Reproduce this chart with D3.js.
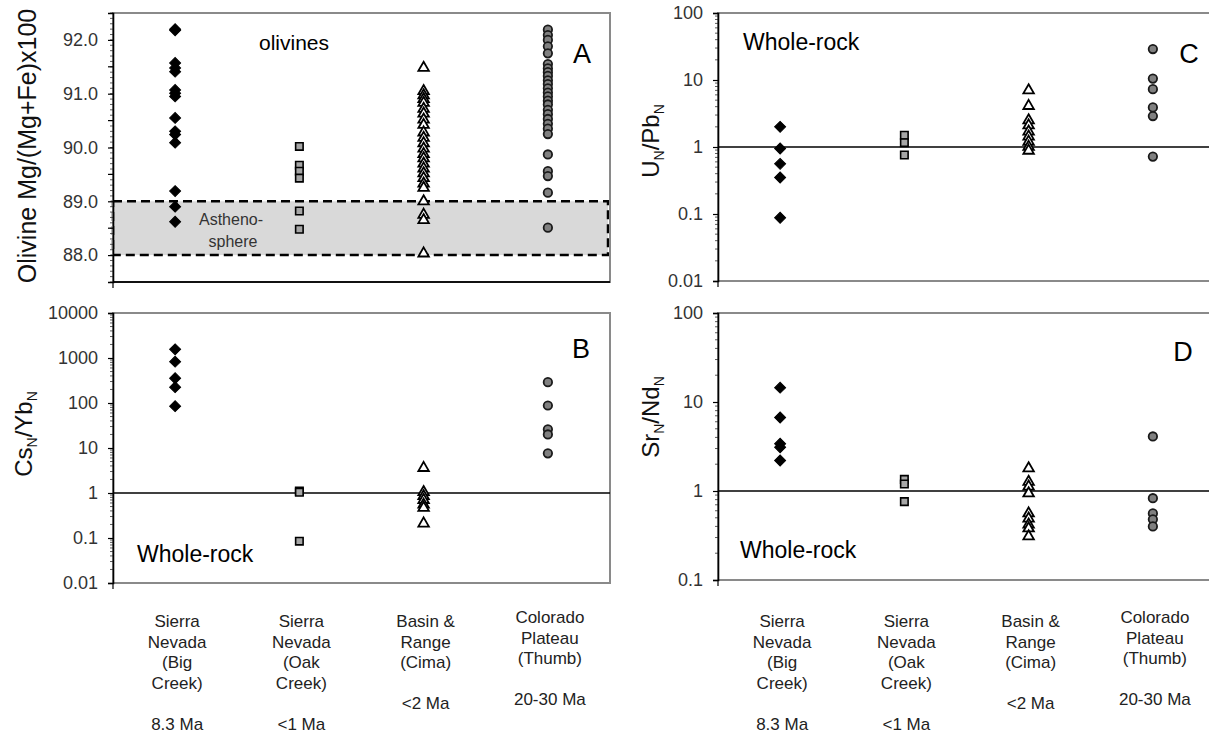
<!DOCTYPE html>
<html><head><meta charset="utf-8">
<script src="https://cdn.jsdelivr.net/npm/d3@7"></script>
<style>
body{margin:0;background:#fff;}
text{font-family:"Liberation Sans",Arial,sans-serif;}
</style></head>
<body><svg id="c" width="1209" height="736"></svg>
<script>
// ---------- data ----------
const categories = ["Big Creek","Oak Creek","Cima","Thumb"];
const categoryLabels = [
  ["Sierra","Nevada","(Big","Creek)","","8.3 Ma"],
  ["Sierra","Nevada","(Oak","Creek)","","<1 Ma"],
  ["Basin &","Range","(Cima)","","<2 Ma"],
  ["Colorado","Plateau","(Thumb)","","20-30 Ma"]
];
const olivineTicks = ["88.0","89.0","90.0","91.0","92.0"];
const csYbTicks = ["0.01","0.1","1","10","100","1000","10000"];
const uPbTicks = ["0.01","0.1","1","10","100"];
const srNdTicks = ["0.1","1","10","100"];

// Panel A: olivine Mg#
const olivineBigCreek = [92.2,92.18,91.57,91.48,91.41,91.07,91.01,90.95,90.55,90.3,90.24,90.09,89.19,88.9,88.62];
const olivineOakCreek = [90.02,89.67,89.56,89.43,88.82,88.48];
const olivineCima = [91.48,91.05,90.97,90.9,90.83,90.72,90.63,90.52,90.42,90.28,90.18,90.08,89.98,89.88,89.8,89.7,89.61,89.52,89.43,89.33,89.25,89.0,88.75,88.65,88.03];
const olivineThumb = [92.19,92.09,92.0,91.88,91.75,91.55,91.47,91.4,91.33,91.25,91.18,91.1,91.02,90.95,90.87,90.8,90.7,90.62,90.53,90.44,90.35,90.25,89.87,89.56,89.47,89.16,88.51];
// Panel B: CsN/YbN
const csYbBigCreek = [1560,830,355,225,85];
const csYbOakCreek = [1.1,1.04,0.085];
const csYbCima = [3.6,1.05,0.85,0.7,0.55,0.47,0.21];
const csYbThumb = [290,88,26,20,7.6];
// Panel C: UN/PbN
const uPbBigCreek = [2.0,0.95,0.56,0.35,0.088];
const uPbOakCreek = [1.5,1.16,0.76];
const uPbCima = [7.0,4.1,2.5,2.1,1.7,1.43,1.2,1.01,0.88];
const uPbThumb = [29,10.5,7.3,3.9,2.9,0.72];
// Panel D: SrN/NdN
const srNdBigCreek = [14.5,6.7,3.4,3.1,2.2];
const srNdOakCreek = [1.35,1.2,0.76];
const srNdCima = [1.8,1.27,1.12,0.94,0.56,0.49,0.42,0.38,0.31];
const srNdThumb = [4.1,0.83,0.56,0.48,0.4];

// ---------- drawing ----------
const svg = d3.select("#c");
const groupStyles = [
  {type:"diamond", fill:"#000", stroke:"#000", sw:1},
  {type:"square", fill:"#a6a6a6", stroke:"#000", sw:1.6},
  {type:"triangle", fill:"#fff", stroke:"#000", sw:1.8},
  {type:"circle", fill:"#808080", stroke:"#1a1a1a", sw:1.8}
];
function symbolPath(t){
  if(t==="diamond") return d3.symbol(d3.symbolSquare, 60)();
  if(t==="square") return d3.symbol(d3.symbolSquare, 56)();
  if(t==="triangle") return d3.symbol(d3.symbolTriangle, 48)();
  return d3.symbol(d3.symbolCircle, 56)();
}

function panel(cfg){
  const {x0,x1,y0,y1,y,series} = cfg;
  const x = d3.scaleBand().domain(categories).range([x0,x1]);
  const g = svg.append("g");
  if(cfg.band){
    const bt = y(cfg.band[1]), bb = y(cfg.band[0]);
    g.append("rect").attr("x",x0).attr("y",bt).attr("width",x1-x0-2).attr("height",bb-bt)
      .attr("fill","#d9d9d9").attr("stroke","#000").attr("stroke-width",2.5).attr("stroke-dasharray","9,5");
    g.append("text").attr("x",x0+118).attr("y",bt+24).attr("text-anchor","middle")
      .attr("font-size",16).attr("fill","#333").text("Astheno-");
    g.append("text").attr("x",x0+120).attr("y",bt+46).attr("text-anchor","middle")
      .attr("font-size",16).attr("fill","#333").text("sphere");
  }
  // frame
  g.append("rect").attr("x",x0).attr("y",y0).attr("width",x1-x0).attr("height",y1-y0)
    .attr("fill","none").attr("stroke","#8a8a8a").attr("stroke-width",2);
  if(cfg.blackBottom) g.append("line").attr("x1",x0).attr("x2",x1).attr("y1",y1).attr("y2",y1).attr("stroke","#111").attr("stroke-width",2);
  if(cfg.refLine!==undefined) g.append("line").attr("x1",x0).attr("x2",x1).attr("y1",y(cfg.refLine)).attr("y2",y(cfg.refLine)).attr("stroke","#000").attr("stroke-width",1.3);
  // axis
  const ax = g.append("g").attr("transform",`translate(${x0},0)`);
  const minor = cfg.minor;
  ax.selectAll("line.mn").data(minor).join("line").attr("x1",-3).attr("x2",0)
    .attr("y1",d=>y(d)).attr("y2",d=>y(d)).attr("stroke","#333").attr("stroke-width",0.8);
  const axis = d3.axisLeft(y).tickValues(cfg.ticks.map(Number)).tickFormat((d,i)=>cfg.ticks[i]).tickSizeOuter(0).tickSize(5).tickPadding(10);
  ax.call(axis);
  ax.select(".domain").attr("stroke","#000").attr("stroke-width",1.6);
  ax.selectAll(".tick line").attr("stroke","#000").attr("stroke-width",1.2);
  ax.selectAll(".tick text").attr("font-size",18).attr("fill","#333").attr("font-family","Liberation Sans, Arial, sans-serif");
  g.append("line").attr("x1",x0).attr("x2",x0).attr("y1",y1).attr("y2",y1+6).attr("stroke","#000").attr("stroke-width",1.2);
  // points
  series.forEach((vals,i)=>{
    const st = groupStyles[i];
    const p = symbolPath(st.type);
    g.selectAll(null).data(vals).join("path").attr("d",p)
      .attr("transform",d=>`translate(${x(categories[i])+x.bandwidth()/2},${y(d)})${st.type==="diamond"?" rotate(45)":""}`)
      .attr("fill",st.fill).attr("stroke",st.stroke).attr("stroke-width",st.sw);
  });
  // panel letter
  g.append("text").attr("x",cfg.letterPos[0]).attr("y",cfg.letterPos[1]).attr("text-anchor","middle")
    .attr("font-size",27).attr("fill","#000").text(cfg.letter);
  // y label
  const yl = g.append("text").attr("transform",`translate(${cfg.ylabPos[0]},${cfg.ylabPos[1]}) rotate(-90)`)
    .attr("text-anchor","middle").attr("font-size",cfg.ylabSize||24).attr("fill","#111");
  cfg.ylab.forEach(part=>{
    if(part.sub) yl.append("tspan").attr("font-size",14).attr("dy",5).text(part.t);
    else yl.append("tspan").attr("dy",part.after?-5:0).text(part.t);
  });
  if(cfg.note) g.append("text").attr("x",cfg.note.x).attr("y",cfg.note.y).attr("font-size",cfg.note.size)
    .attr("text-anchor",cfg.note.anchor||"start").attr("fill","#000").text(cfg.note.t);
  return x;
}

function logMinor(lo,hi){
  const out=[];
  for(let e=Math.log10(lo); e<Math.log10(hi); e++) for(let k=2;k<10;k++) out.push(k*Math.pow(10,e));
  return out;
}

const yA = d3.scaleLinear().domain([87.5,92.5]).range([282,13]);
const xA = panel({x0:113,x1:610,y0:13,y1:282,y:yA,series:[olivineBigCreek,olivineOakCreek,olivineCima,olivineThumb],
  ticks:olivineTicks, minor:d3.range(875,926,1).map(v=>v/10), band:[88,89], blackBottom:true,
  letter:"A", letterPos:[582,63],
  ylab:[{t:"Olivine Mg/(Mg+Fe)x100"}], ylabPos:[36,146], ylabSize:25,
  note:{t:"olivines",x:294,y:50,size:21,anchor:"middle"}});
// extra major ticks at half units for panel A
svg.append("g").selectAll("line").data([88.5,89.5,90.5,91.5]).join("line")
  .attr("x1",108).attr("x2",113).attr("y1",d=>yA(d)).attr("y2",d=>yA(d)).attr("stroke","#000").attr("stroke-width",1.2);

const yB = d3.scaleLog().domain([0.01,10000]).range([583,313]);
panel({x0:113,x1:610,y0:313,y1:583,y:yB,series:[csYbBigCreek,csYbOakCreek,csYbCima,csYbThumb],
  ticks:csYbTicks, minor:logMinor(0.01,10000), refLine:1,
  letter:"B", letterPos:[581,358],
  ylab:[{t:"Cs"},{t:"N",sub:true},{t:"/Yb",after:true},{t:"N",sub:true}], ylabPos:[32,434],
  note:{t:"Whole-rock",x:137,y:562,size:23}});

const yC = d3.scaleLog().domain([0.01,100]).range([281,13]);
const xC = panel({x0:718,x1:1215,y0:13,y1:281,y:yC,series:[uPbBigCreek,uPbOakCreek,uPbCima,uPbThumb],
  ticks:uPbTicks, minor:logMinor(0.01,100), refLine:1,
  letter:"C", letterPos:[1189,63],
  ylab:[{t:"U"},{t:"N",sub:true},{t:"/Pb",after:true},{t:"N",sub:true}], ylabPos:[659,141],
  note:{t:"Whole-rock",x:743,y:50,size:23}});

const yD = d3.scaleLog().domain([0.1,100]).range([580,313]);
panel({x0:718,x1:1215,y0:313,y1:580,y:yD,series:[srNdBigCreek,srNdOakCreek,srNdCima,srNdThumb],
  ticks:srNdTicks, minor:logMinor(0.1,100), refLine:1,
  letter:"D", letterPos:[1183,361],
  ylab:[{t:"Sr"},{t:"N",sub:true},{t:"/Nd",after:true},{t:"N",sub:true}], ylabPos:[659,417],
  note:{t:"Whole-rock",x:740,y:558,size:23}});

// category labels
[xA,xC].forEach(x=>{
  const g = svg.append("g");
  categoryLabels.forEach((lines,i)=>{
    const cx = x(categories[i])+x.bandwidth()/2 + 2;
    const off = i===3 ? -4 : 0;
    lines.forEach((ln,j)=>{
      if(!ln) return;
      g.append("text").attr("x",cx).attr("y",627+off+j*20.6).attr("text-anchor","middle")
        .attr("font-size",17).attr("fill","#222").text(ln);
    });
  });
});
</script></body></html>
